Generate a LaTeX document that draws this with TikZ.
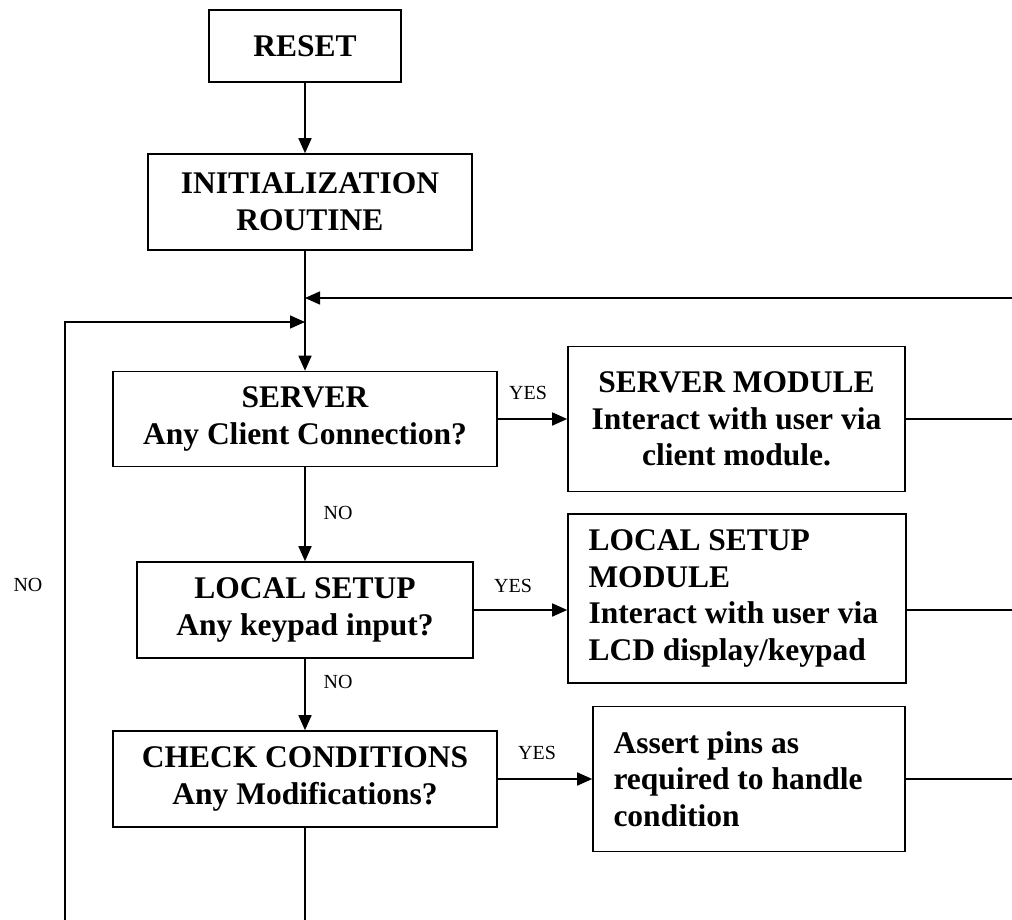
\documentclass[tikz,border=0pt]{standalone}
\usepackage{fontspec}
\setmainfont{Liberation Serif}
\usetikzlibrary{arrows.meta}
\begin{document}
\begin{tikzpicture}[x=1pt, y=-1pt, line width=1.6pt,
  box/.style={draw, line width=1.6pt, inner sep=0pt, align=center,
    font=\fontsize{31.5}{36.7}\selectfont\bfseries},
  lbox/.style={box, align=flush left, inner xsep=20.5pt},
  lbl/.style={inner sep=0pt, font=\fontsize{20}{24}\selectfont},
  flow/.style={-{Triangle[length=15pt,width=13pt]}}]
\useasboundingbox (0,0) rectangle (1012,920);

% main column
\node[box, minimum width=192pt, minimum height=72pt] (reset) at (305,46) {RESET};
\node[box, minimum width=324pt, minimum height=96pt] (init) at (310,202) {INITIALIZATION\\ROUTINE};
\node[box, minimum width=384pt, minimum height=95pt] (server) at (305,419) {SERVER\\Any Client Connection?};
\node[box, minimum width=336pt, minimum height=96pt] (local) at (305,610) {LOCAL SETUP\\Any keypad input?};
\node[box, minimum width=384pt, minimum height=96pt] (check) at (305,779) {CHECK CONDITIONS\\Any Modifications?};

% handler modules
\node[box, minimum width=337pt, minimum height=145pt] (smod) at (736.5,419) {SERVER MODULE~\\Interact with user via\\client module.};
\node[lbox, text width=297pt, minimum height=169pt] (lmod) at (737,598.5) {LOCAL SETUP\\MODULE\\Interact with user via\\LCD display/keypad};
\node[lbox, text width=271pt, minimum height=145pt] (assert) at (749,779) {Assert pins as\\required to handle\\condition};

% loose ends of the loop lines
\coordinate (topin) at (1012,298);
\coordinate (join) at (305,322);
\coordinate (loopl) at (65,920);
\coordinate (bot) at (305,920);

% flow down the main column
\draw[flow] (reset.south) -- (reset.south |- init.north);
\draw[flow] (server.north |- init.south) -- (server.north);
\draw[flow] (topin) -- (topin -| server.north);
\draw[flow] (loopl) |- (join);
\draw[flow] (server.south) -- (local.north);
\draw[flow] (local.south) -- (check.north);
\draw (check.south) -- (bot);

% branches to the modules and back
\draw[flow] (server.east) -- (smod.west);
\draw[flow] (local.east) -- (local.east -| lmod.west);
\draw[flow] (check.east) -- (check.east -| assert.west);
\draw (smod.east) -- (smod.east -| topin);
\draw (local.east -| lmod.east) -- (local.east -| topin);
\draw (assert.east) -- (assert.east -| topin);

% branch labels
\node[lbl] (yes1) at (528,393) {YES};
\node[lbl] (no1) at (338,513) {NO};
\node[lbl] (yes2) at (513,586) {YES};
\node[lbl] (no2) at (338,682) {NO};
\node[lbl] (yes3) at (537,753) {YES};
\node[lbl] (no3) at (28,585) {NO};
\end{tikzpicture}
\end{document}
